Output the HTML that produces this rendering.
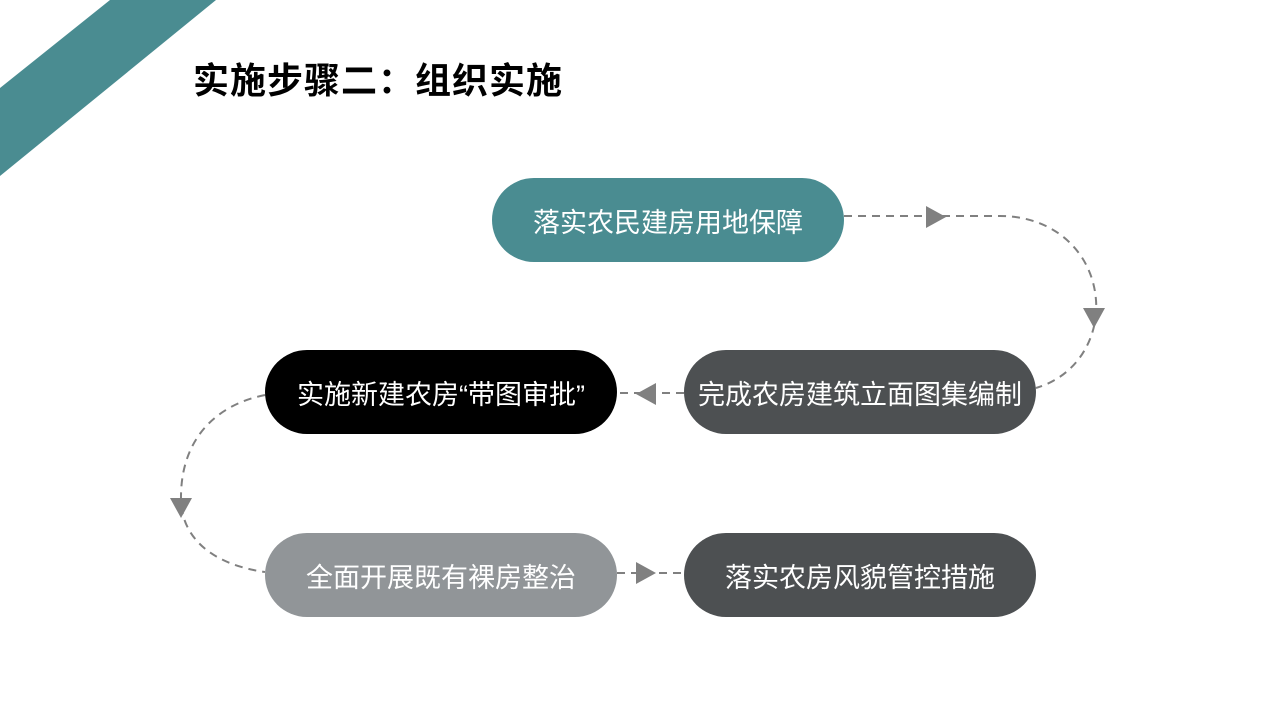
<!DOCTYPE html>
<html><head><meta charset="utf-8"><style>
body{margin:0;width:1280px;height:720px;overflow:hidden;background:#fff;font-family:"Liberation Sans","Noto Sans CJK SC",sans-serif;position:relative}
.t{position:absolute;left:193px;top:52px;font-size:36px;font-weight:bold;color:#000;letter-spacing:1px}
.p{position:absolute;width:352px;height:84px;border-radius:42px;color:#fff;font-size:27px;display:flex;align-items:center;justify-content:center}
svg{position:absolute;left:0;top:0}
</style></head><body>
<svg width="1280" height="720">
<polygon points="110,0 216,0 0,176 0,88" fill="#4a8c91"/>
<g fill="none" stroke="#808080" stroke-width="2" stroke-dasharray="8,6">
<path d="M844,216 H1000 C1060,216 1100,260 1096,315 C1092,350 1070,378 1036,388"/>
<path d="M684,393 H617"/>
<path d="M265,395 C215,405 180,440 181,500 C182,540 215,565 265,572"/>
<path d="M617,573 H684"/>
</g>
<g fill="#808080">
<polygon points="926,206 926,228 946,217"/>
<polygon points="1083,308 1105,308 1094,328"/>
<polygon points="656,383 656,405 636,394"/>
<polygon points="170,498 192,498 181,518"/>
<polygon points="636,562 636,584 656,573"/>
</g>
</svg>
<div class="t">实施步骤二：组织实施</div>
<div class="p" style="left:492px;top:178px;background:#4a8c91">落实农民建房用地保障</div>
<div class="p" style="left:684px;top:350px;background:#4d5052">完成农房建筑立面图集编制</div>
<div class="p" style="left:265px;top:350px;background:#000">实施新建农房“带图审批”</div>
<div class="p" style="left:265px;top:533px;background:#919598">全面开展既有裸房整治</div>
<div class="p" style="left:684px;top:533px;background:#4d5052">落实农房风貌管控措施</div>
</body></html>
